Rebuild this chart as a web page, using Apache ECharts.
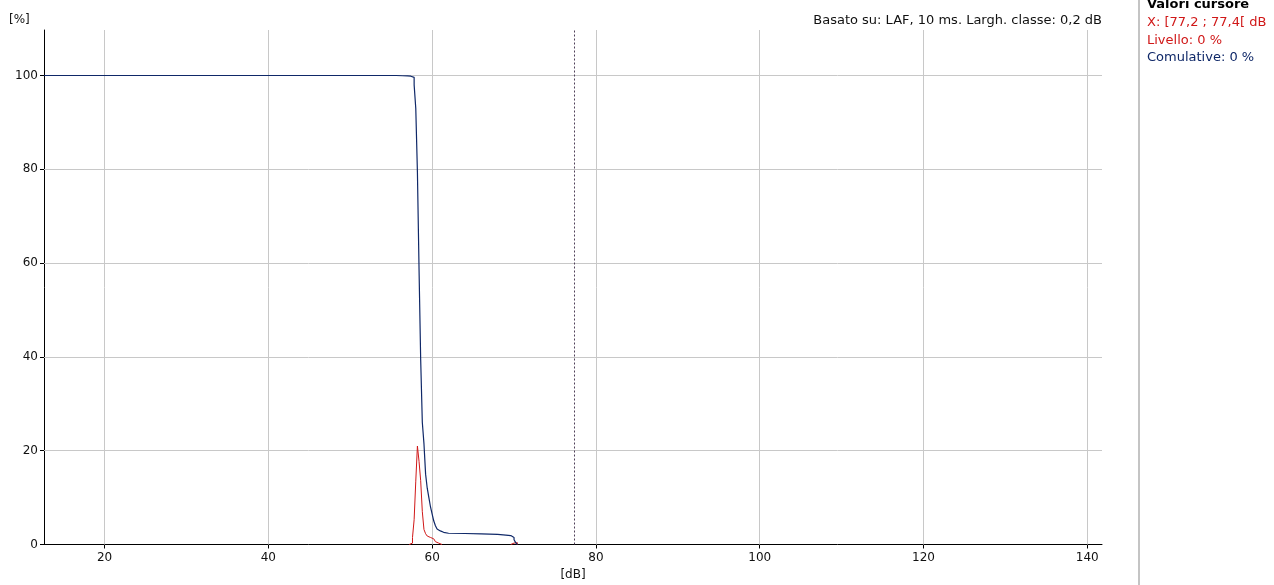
<!DOCTYPE html>
<html>
<head>
<meta charset="utf-8">
<script src="https://cdn.jsdelivr.net/npm/echarts@6/dist/echarts.min.js"></script>
<style>
  html, body { margin: 0; padding: 0; background: #fff; }
  #chart { width: 1274px; height: 585px; }
</style>
</head>
<body>
<div id="chart"></div>
<script>
// tick labels
const xTicks = [20, 40, 60, 80, 100, 120, 140];
const yTicks = [0, 20, 40, 60, 80, 100];

// cumulative curve (class start dB -> %)
const cumDb = [12.6, 55.0, 55.6, 56.4, 57.0, 57.4, 57.6, 57.8, 58.0, 58.2, 58.4, 58.6, 58.8, 59.0,
  59.2, 59.4, 59.6, 59.8, 60.0, 60.2, 60.4, 60.6, 60.8, 61.0, 61.2, 61.4, 61.6, 62.0,
  64.0, 66.0, 68.0, 69.0, 69.6, 69.8, 70.0, 70.2, 70.4];
const cumPct = [100, 100, 99.95, 99.9, 99.85, 99.75, 99.6, 98, 93, 79.5, 58.6, 39.4, 26, 21.5,
  15, 12, 10, 8, 6.5, 5, 4, 3.3, 2.9, 2.7, 2.6, 2.5, 2.4, 2.35,
  2.25, 2.15, 2.0, 1.9, 1.75, 1.5, 1.0, 0.4, 0];

// level per class (class start dB -> %), '-' breaks the line
const levelDb = [57.2, 57.4, 57.6, 57.8, 58.0, 58.2, 58.4, 58.6, 58.8, 59.0, 59.2, 59.4, 59.6,
  59.8, 60.0, 60.2, 60.4, 60.6, 60.8, 61.0, 61.2, 69.6, 69.8, 70.0, 70.2, 70.4];
const levelPct = [0, 0.3, 1.5, 5.3, 13.5, 21, 17.7, 13.6, 7, 3.2, 2.3, 1.8, 1.5,
  1.4, 1.2, 0.9, 0.6, 0.3, 0.1, 0, '-', 0, 0.3, 0.7, 0.4, 0];

const cursorDb = 77.3;

const myChart = echarts.init(document.getElementById("chart"));
const font = "DejaVu Sans";

const option = {
  animation: false,
  grid: {
    left: 44,
    right: 172,
    top: 30,
    bottom: 40.5,
    containLabel: false,
    outerBoundsMode: "none"
  },
  xAxis: {
    type: "value",
    min: 12.6,
    max: 141.8,
    splitNumber: 6,
    name: "[dB]",
    nameLocation: "middle",
    nameGap: 24,
    nameTextStyle: { color: "#111", fontFamily: font, fontSize: 12 },
    axisLine: { lineStyle: { color: "#000", width: 1 } },
    axisTick: { show: true, length: 4, customValues: xTicks, lineStyle: { color: "#000" } },
    axisLabel: {
      customValues: xTicks,
      margin: 7,
      color: "#111",
      fontFamily: font,
      fontSize: 12
    },
    splitLine: { show: false }
  },
  yAxis: {
    type: "value",
    min: 0,
    max: 109.7,
    axisLine: { show: true, lineStyle: { color: "#000", width: 1 } },
    axisTick: { show: true, length: 4, customValues: yTicks, lineStyle: { color: "#000" } },
    axisLabel: {
      customValues: yTicks,
      margin: 6,
      color: "#111",
      fontFamily: font,
      fontSize: 12
    },
    splitLine: { show: false }
  },
  series: [
    {
      // grid lines + cursor
      type: "line",
      data: [],
      silent: true,
      z: 1,
      markLine: {
        z: 1,
        silent: true,
        symbol: "none",
        animation: false,
        label: { show: false },
        lineStyle: { color: "#c8c8c8", width: 1, type: "solid" },
        data: xTicks.map(v => ({ xAxis: v }))
          .concat(yTicks.filter(v => v > 0).map(v => ({ yAxis: v })))
          .concat([{ xAxis: cursorDb, lineStyle: { color: "#4f4058", type: [2, 2], width: 1 } }])
      }
    },
    {
      name: "Livello",
      type: "line",
      step: "end",
      z: 3,
      symbol: "none",
      lineStyle: { color: "#d01818", width: 1 },
      data: levelDb.map((d, i) => [d, levelPct[i]])
    },
    {
      name: "Comulative",
      type: "line",
      step: "end",
      z: 4,
      symbol: "none",
      lineStyle: { color: "#0f2868", width: 1.2 },
      data: cumDb.map((d, i) => [d, cumPct[i]])
    }
  ],
  graphic: [
    { type: "text", left: 9, top: 14, style: { text: "[%]", fill: "#111", font: "12px " + font } },
    {
      type: "text", x: 1102, y: 21,
      style: { text: "Basato su: LAF, 10 ms. Largh. classe: 0,2 dB", fill: "#111", font: "13px " + font, align: "right", verticalAlign: "middle" }
    },
    {
      type: "rect", shape: { x: 1138, y: 0, width: 2, height: 585 },
      style: { fill: "#c4c4c4" }
    },
    { type: "text", x: 1147, y: 5, style: { text: "Valori cursore", fill: "#000", font: "bold 13px " + font, verticalAlign: "middle" } },
    { type: "text", x: 1147, y: 22.5, style: { text: "X: [77,2 ; 77,4[ dB", fill: "#d01818", font: "13px " + font, verticalAlign: "middle" } },
    { type: "text", x: 1147, y: 40.5, style: { text: "Livello: 0 %", fill: "#d01818", font: "13px " + font, verticalAlign: "middle" } },
    { type: "text", x: 1147, y: 58, style: { text: "Comulative: 0 %", fill: "#0f2868", font: "13px " + font, verticalAlign: "middle" } }
  ]
};

myChart.setOption(option);

window.addEventListener("resize", function () {
  myChart.resize();
});
</script>
</body>
</html>
